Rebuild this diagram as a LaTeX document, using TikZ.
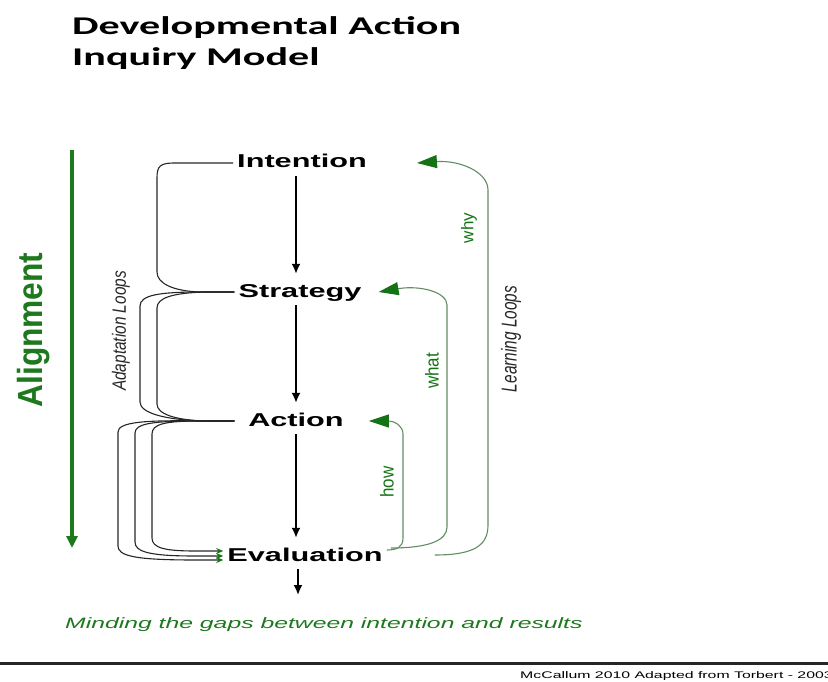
\documentclass[tikz,border=0pt]{standalone}
\usepackage{fontspec}
\setmainfont{Liberation Sans}
\newfontfamily\titlefont{Carlito}
\usetikzlibrary{arrows.meta}
\definecolor{loopgreen}{RGB}{20,115,20}
\definecolor{linegreen}{RGB}{100,140,100}
\definecolor{aligngreen}{RGB}{30,120,30}
\newcommand{\wide}[1]{\scalebox{1.65}[1]{#1}}
\newcommand{\sidetext}[2]{\scalebox{#1}[1]{\rotatebox{90}{#2}}}
\tikzset{
	stage/.style = {font=\fontsize{18.6}{20}\selectfont\bfseries, inner xsep=4pt, inner ysep=4pt, text height=14pt, text depth=4pt, anchor=base},
	flow/.style = {-{Latex[length=10pt,width=9pt]}, line width=1.8pt, shorten >=5pt},
	adapt/.style = {line width=1.1pt, draw=black!85},
	adaptarrow/.style = {adapt, -{Stealth[length=7pt,width=6pt,color=loopgreen]}},
	learn/.style = {line width=1.1pt, draw=linegreen, -{Triangle[length=20pt,width=13pt,color=loopgreen]}},
	tag/.style = {font=\fontsize{17}{17}\selectfont, text=loopgreen, inner sep=0pt},
	looplabel/.style = {font=\fontsize{15.4}{16}\selectfont\itshape, text=black!85, inner sep=0pt}
}
\begin{document}
\begin{tikzpicture}[x=1pt, y=1pt]
		\useasboundingbox (0,0) rectangle (828,-682);
		\clip (0,0) rectangle (828,-682);
		
		% Title
		\node (title) [anchor=north west, align=left, inner sep=0pt, font=\titlefont\bfseries\fontsize{25.5}{31}\selectfont] at (72,-16) {\wide{Developmental Action}\\\wide{Inquiry Model}};
		
		% Alignment
		\coordinate (aligntop) at (72,-150);
		\coordinate (alignend) at (72,-548);
		\draw [line width=3.5pt, draw=aligngreen, -{Triangle[length=12pt,width=11pt]}] (aligntop) -- (alignend);
		\node (alignment) [inner sep=0pt, text=aligngreen, font=\fontsize{31.7}{32}\selectfont\bfseries] at (34,-330) {\sidetext{1.1}{Alignment}};
		
		% Stages
		\node (intention) [stage] at (302,-168) {\wide{Intention}};
		\node (strategy) [stage] at (300,-297) {\wide{Strategy}};
		\node (action) [stage] at (296,-426) {\wide{Action}};
		\node (evaluation) [stage] at (305,-561) {\wide{Evaluation}};
		\coordinate (spine) at (296,0);
		\coordinate (outcome) at (298,-600);
		
		% Arrows
		\draw [flow] (intention.south -| spine) -- (strategy.north -| spine);
		\draw [flow] (strategy.south -| spine) -- (action.north -| spine);
		\draw [flow] (action.south -| spine) -- (evaluation.north -| spine);
		\draw [flow] (evaluation.south -| outcome) -- (outcome);
		
		% Adaptation loops
		\draw [adapt] (intention.west) -- (175,-163) .. controls (160,-163) and (157,-166) .. (157,-178) -- (157,-272) .. controls (157,-283) and (172,-291) .. (200,-292) -- (strategy.west);
		\draw [adapt] (strategy.west) -- (200,-292) .. controls (160,-292) and (140,-295) .. (140,-306) -- (140,-402) .. controls (140,-413) and (165,-420) .. (205,-421) -- (action.west -| strategy.west);
		\draw [adapt] (strategy.west) -- (205,-292) .. controls (172,-293) and (157,-298) .. (157,-308) -- (157,-404) .. controls (157,-414) and (175,-420) .. (205,-421) -- (action.west -| strategy.west);
		\draw [adaptarrow] (action.west -| strategy.west) -- (200,-421) .. controls (165,-421) and (152,-424) .. (152,-434) -- (152,-538) .. controls (152,-548) and (165,-551) .. (195,-551) -- ([yshift=5pt]evaluation.west);
		\draw [adaptarrow] (action.west -| strategy.west) -- (200,-421) .. controls (155,-421) and (135,-423) .. (135,-433) -- (135,-542) .. controls (135,-552) and (150,-556) .. (195,-556) -- (evaluation.west);
		\draw [adaptarrow] (action.west -| strategy.west) -- (200,-421) .. controls (145,-420) and (118,-422) .. (118,-432) -- (118,-546) .. controls (118,-556) and (135,-560) .. (195,-560) -- ([yshift=-4pt]evaluation.west);
		\node (adaptation) [looplabel] at (121,-331) {\sidetext{1.25}{Adaptation Loops}};
		
		% Learning loops
		\draw [learn] ([yshift=6pt]evaluation.east) .. controls (396,-550) and (403,-548) .. (403,-538) -- (403,-434) .. controls (403,-426) and (395,-421) .. ([xshift=21pt]action.east);
		\draw [learn] ([shift={(4pt,8pt)}]evaluation.east) .. controls (430,-548) and (447,-540) .. (447,-527) -- (447,-305) .. controls (447,-292) and (420,-285) .. ([xshift=13pt]strategy.east);
		\draw [learn] ([shift={(48pt,1pt)}]evaluation.east) .. controls (475,-555) and (488,-545) .. (488,-525) -- (488,-190) .. controls (488,-172) and (460,-160) .. ([xshift=46pt]intention.east);
		\node (how) [tag] at (387,-482) {\sidetext{1.1}{how}};
		\node (what) [tag] at (432,-371) {\sidetext{1.1}{what}};
		\node (why) [tag] at (469,-228) {\sidetext{1.0}{why}};
		\node (learning) [looplabel] at (511,-339) {\sidetext{1.4}{Learning Loops}};
		
		% Footer
		\node (gaps) [anchor=base west, inner sep=0pt, text=aligngreen, font=\fontsize{15}{15}\selectfont\itshape] at (65,-628) {\wide{Minding the gaps between intention and results}};
		\draw [line width=3pt, draw=black!85] (0,-663) -- (828,-663);
		\node (source) [anchor=base west, inner sep=0pt, font=\fontsize{9.6}{10}\selectfont] at (520,-678) {\wide{McCallum 2010 Adapted from Torbert - 2003}};
		
	\end{tikzpicture}
\end{document}
